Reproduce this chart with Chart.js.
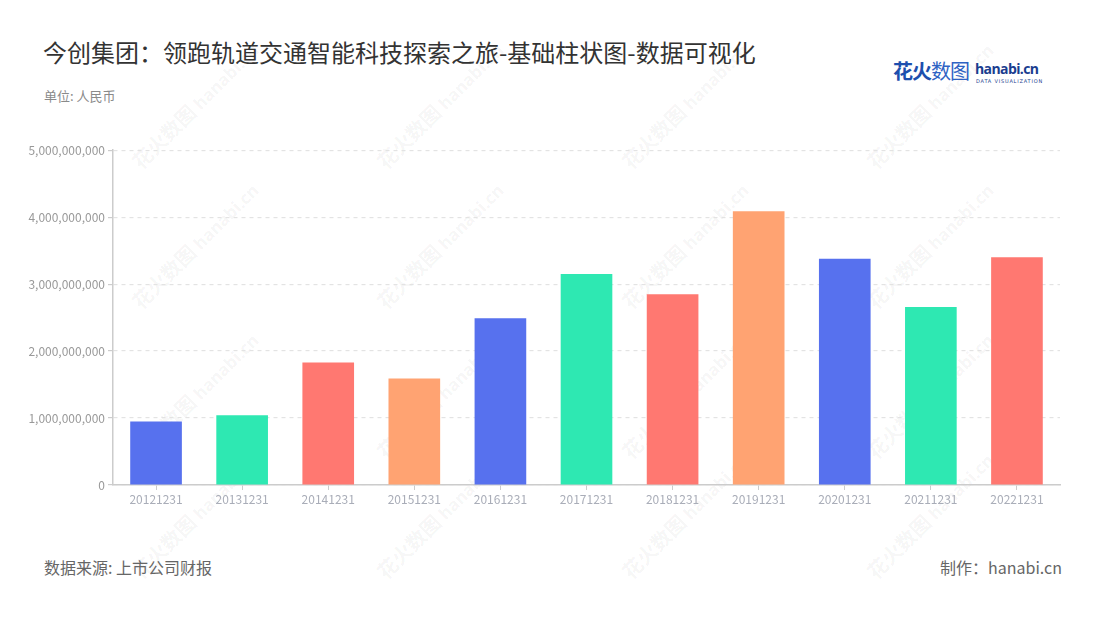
<!DOCTYPE html>
<html>
<head>
<meta charset="utf-8">
<script src="https://cdn.jsdelivr.net/npm/chart.js@4.4.0/dist/chart.umd.min.js"></script>
<style>
  html, body { margin: 0; padding: 0; background: #fff; }
  body { width: 1100px; height: 620px; position: relative; overflow: hidden;
         font-family: "Noto Sans CJK SC", "Noto Sans", sans-serif; }
  .title { position: absolute; left: 43px; top: 34px; font-size: 24px; color: #333; }
  .unit { position: absolute; left: 44px; top: 86px; font-size: 13px; color: #8a8a8a; }
  .source { position: absolute; left: 44px; top: 555px; font-size: 16px; color: #666; }
  .maker { position: absolute; right: 38px; top: 555px; font-size: 16px; color: #666; }
  .logo { position: absolute; left: 893px; top: 58px; height: 30px; }
  .logo .cn { position: absolute; left: 0; top: -2px; font-size: 20px; font-weight: 700; color: #1d4fae; white-space: nowrap; letter-spacing: -1px; }
  .logo .cn span { font-weight: 400; color: #2f63c4; }
  .logo .en { position: absolute; left: 82px; top: 1px; font-size: 14px; font-weight: 700; color: #1a3d8f; font-family: "Open Sans", sans-serif; letter-spacing: -0.6px; }
  .logo .sub { position: absolute; left: 83px; top: 20px; font-size: 5px; color: #1a3d8f; letter-spacing: 0.8px; white-space: nowrap; font-family: "DejaVu Sans", sans-serif; }
  .wm { position: absolute; transform: rotate(-45deg); transform-origin: left center; white-space: nowrap;
        color: rgba(0,0,0,0.05); font-size: 20px; font-weight: 700; pointer-events: none; }
  .wm small { font-size: 17px; font-family: "Open Sans", sans-serif; }
  #wrap { position: absolute; left: 0; top: 140px; width: 1100px; height: 375px; }
</style>
</head>
<body>
<div class="title">今创集团：领跑轨道交通智能科技探索之旅-基础柱状图-数据可视化</div>
<div class="unit">单位: 人民币</div>
<div class="logo">
  <div class="cn">花火<span>数图</span></div>
  <div class="en">hanabi.cn</div>
  <div class="sub">DATA VISUALIZATION</div>
</div>
<div id="wm"></div>
<div id="wrap"><canvas id="chart"></canvas></div>
<div class="source">数据来源: 上市公司财报</div>
<div class="maker">制作：hanabi.cn</div>

<script>
// data
const categories = ['20121231', '20131231', '20141231', '20151231', '20161231', '20171231',
                    '20181231', '20191231', '20201231', '20211231', '20221231'];
const revenue = [950000000, 1040000000, 1830000000, 1590000000, 2490000000, 3150000000,
                 2850000000, 4090000000, 3380000000, 2660000000, 3400000000];
const yTicks = [0, 1000000000, 2000000000, 3000000000, 4000000000, 5000000000];

const palette = ['#5771ee', '#2ee8b2', '#ff7871', '#ffa372'];

// faint diagonal watermarks
const wmBox = document.getElementById('wm');
[150, 290, 440, 560].forEach((y) => {
    [135, 380, 625, 870].forEach((x) => {
        const d = document.createElement('div');
        d.className = 'wm';
        d.style.left = x + 'px';
        d.style.top = y + 'px';
        d.innerHTML = '花火数图 <small>hanabi.cn</small>';
        wmBox.appendChild(d);
    });
});

const fmt = (v) => v.toLocaleString('en-US');

new Chart(document.getElementById('chart'), {
    type: 'bar',
    data: {
        labels: categories,
        datasets: [{
            data: revenue,
            backgroundColor: categories.map((_, i) => palette[i % palette.length]),
            barPercentage: 0.6,
            categoryPercentage: 1,
        }],
    },
    options: {
        responsive: true,
        maintainAspectRatio: false,
        animation: false,
        layout: { padding: { top: 10, right: 40, left: 0, bottom: 0 } },
        plugins: { legend: { display: false }, tooltip: { enabled: false } },
        scales: {
            x: {
                grid: { display: true, drawOnChartArea: false, offset: false, tickLength: 5, tickColor: '#ccc', tickWidth: 1 },
                border: { color: '#ccc', width: 1.5 },
                ticks: { color: '#a9adb8', font: { family: 'Noto Sans CJK SC', size: 12 }, padding: 2, maxRotation: 0 },
                afterFit: (s) => { s.height = 30; },
            },
            y: {
                min: 0,
                max: 5000000000,
                afterBuildTicks: (s) => { s.ticks = yTicks.map((v) => ({ value: v })); },
                grid: { color: '#e3e3e3', lineWidth: 1.2, tickLength: 5, tickColor: '#ccc', tickBorderDash: [] },
                border: { color: '#ccc', width: 1.5, dash: [4, 4] },
                ticks: { color: '#999', font: { family: 'Noto Sans CJK SC', size: 12 }, padding: 3, callback: (v) => fmt(v) },
                afterFit: (s) => { s.width = 113; },
            },
        },
    },
});
</script>
</body>
</html>
